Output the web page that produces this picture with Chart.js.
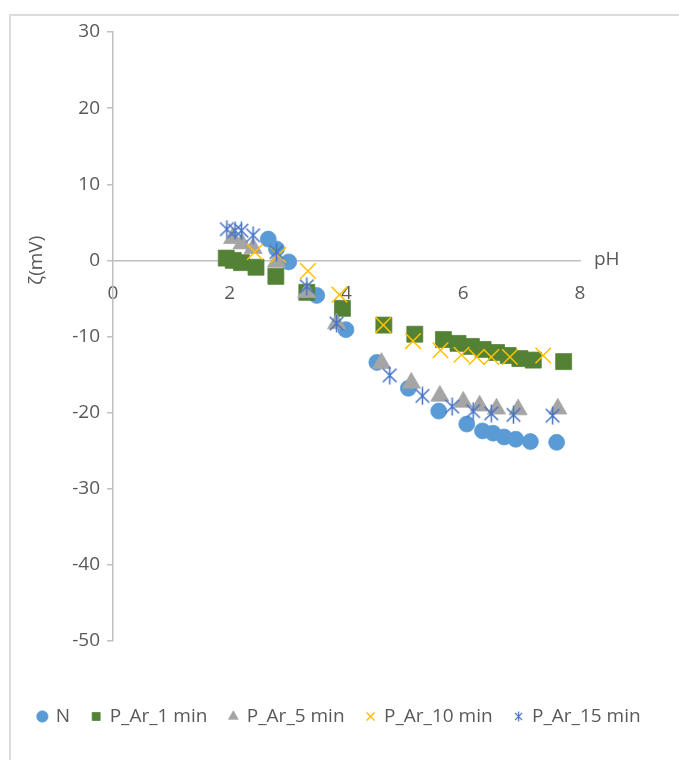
<!DOCTYPE html>
<html>
<head>
<meta charset="utf-8">
<script src="https://cdn.jsdelivr.net/npm/chart.js@4"></script>
<style>
  body { margin: 0; background: #fff; }
  #wrap { position: relative; width: 679px; height: 760px; }
  #frame { position: absolute; left: 9px; top: 14px; right: 0; bottom: 0;
           border-top: 2px solid #dcdcdc; border-left: 2px solid #dcdcdc; }
  canvas { position: absolute; left: 0; top: 0; }
</style>
</head>
<body>
<div id="wrap">
  <div id="frame"></div>
  <canvas id="zeta" width="679" height="760"></canvas>
</div>
<script>
// pH / zeta potential readings per sample
const seriesNames = ["N", "P_Ar_1 min", "P_Ar_5 min", "P_Ar_10 min", "P_Ar_15 min"];

const phN = [2.66, 2.80, 3.01, 3.49, 3.99, 4.52, 5.06, 5.58, 6.06, 6.33, 6.51, 6.70, 6.90, 7.15, 7.60];
const zetaN = [2.8, 1.5, -0.2, -4.6, -9.1, -13.4, -16.8, -19.8, -21.5, -22.4, -22.7, -23.2, -23.5, -23.8, -23.9];

const phAr1 = [1.94, 2.06, 2.20, 2.45, 2.79, 3.32, 3.93, 4.64, 5.17, 5.66, 5.91, 6.14, 6.34, 6.57, 6.77, 6.97, 7.20, 7.72];
const zetaAr1 = [0.3, 0.0, -0.3, -0.9, -2.1, -4.2, -6.3, -8.5, -9.7, -10.4, -10.9, -11.3, -11.7, -12.1, -12.5, -12.9, -13.1, -13.3];

const phAr5 = [2.05, 2.21, 2.40, 2.80, 3.32, 3.83, 4.60, 5.11, 5.60, 6.00, 6.28, 6.57, 6.94, 7.62];
const zetaAr5 = [2.9, 2.2, 1.6, -0.2, -4.2, -8.3, -13.5, -16.1, -17.8, -18.6, -19.1, -19.5, -19.6, -19.5];

const phAr10 = [2.43, 2.83, 3.34, 3.88, 4.63, 5.14, 5.61, 5.97, 6.23, 6.48, 6.80, 7.37];
const zetaAr10 = [1.1, 0.7, -1.4, -4.5, -8.5, -10.6, -11.8, -12.4, -12.7, -12.7, -12.7, -12.5];

const phAr15 = [1.95, 2.09, 2.20, 2.40, 2.80, 3.32, 3.83, 4.74, 5.30, 5.81, 6.17, 6.48, 6.86, 7.53];
const zetaAr15 = [4.1, 3.9, 3.9, 3.3, 1.1, -3.4, -8.3, -15.1, -17.8, -19.2, -19.8, -20.1, -20.3, -20.4];

const xTicks = [0, 2, 4, 6, 8];
const yTicks = [30, 20, 10, 0, -10, -20, -30, -40, -50];

const colors = ["#5b9bd5", "#548235", "#a5a5a5", "#ffc000", "#4472c4"];

// Excel style asterisk marker (x with a vertical bar)
function asterisk(size, color, lw) {
    const c = document.createElement("canvas");
    c.width = size; c.height = size;
    const g = c.getContext("2d");
    const m = size / 2, r = size / 2 - 1;
    g.strokeStyle = color;
    g.lineWidth = lw;
    g.beginPath();
    g.moveTo(m - r * 0.8, m - r * 0.8); g.lineTo(m + r * 0.8, m + r * 0.8);
    g.moveTo(m + r * 0.8, m - r * 0.8); g.lineTo(m - r * 0.8, m + r * 0.8);
    g.moveTo(m, 0.5); g.lineTo(m, size - 0.5);
    g.stroke();
    return c;
}
const starBig = asterisk(19, colors[4], 1.5);
const starSmall = asterisk(11, colors[4], 1.2);

const toPoints = (xs, ys) => xs.map((x, i) => ({ x: x, y: ys[i] }));
const allX = [phN, phAr1, phAr5, phAr10, phAr15];
const allY = [zetaN, zetaAr1, zetaAr5, zetaAr10, zetaAr15];
const styles = ["circle", "rect", "triangle", "crossRot", starBig];
const radii = [8, 11.3, 10.5, 11, 9];

const datasets = seriesNames.map((name, i) => ({
    label: name,
    data: toPoints(allX[i], allY[i]),
    pointStyle: styles[i],
    pointRadius: radii[i],
    pointHoverRadius: radii[i],
    backgroundColor: colors[i],
    borderColor: colors[i],
    pointBorderWidth: i === 3 ? 1.5 : 0.75,
    showLine: false,
    order: 5 - i
}));

const font = "'Open Sans', 'Noto Sans', sans-serif";

// axis titles drawn like the Excel ones (pH at the end of the axis)
const axisTitles = {
    id: "axisTitles",
    afterDraw(chart) {
        const ctx = chart.ctx;
        const y0 = chart.scales.y.getPixelForValue(0);
        ctx.save();
        ctx.fillStyle = "#595959";
        ctx.font = "19px " + font;
        ctx.textBaseline = "middle";
        ctx.textAlign = "left";
        ctx.fillText("pH", chart.chartArea.right + 14, y0 - 1);
        ctx.translate(37, y0);
        ctx.rotate(-Math.PI / 2);
        ctx.textAlign = "center";
        ctx.fillText("ζ(mV)", 0, 0);
        ctx.restore();
    }
};

new Chart(document.getElementById("zeta"), {
    type: "scatter",
    data: { datasets: datasets },
    options: {
        responsive: false,
        animation: false,
        layout: { padding: { top: 32, left: 0, right: 0, bottom: 24 } },
        scales: {
            x: {
                type: "linear",
                min: 0, max: 8,
                position: { y: 0 },
                afterBuildTicks: s => { s.ticks = xTicks.map(v => ({ value: v })); },
                grid: { display: true, drawOnChartArea: false, drawTicks: false },
                border: { color: "#bfbfbf", width: 1.5 },
                ticks: { color: "#595959", font: { family: font, size: 19 }, padding: 22 }
            },
            // empty spacer under the plot, keeps the legend low
            x2: {
                type: "linear",
                position: "bottom",
                afterFit: s => { s.height = 44; },
                grid: { display: false },
                border: { display: false },
                ticks: { display: false }
            },
            y: {
                type: "linear",
                min: -50, max: 30,
                position: "left",
                afterFit: s => { s.width = 113; },
                afterBuildTicks: s => { s.ticks = yTicks.map(v => ({ value: v })); },
                grid: { drawOnChartArea: false, drawTicks: true, tickLength: 6, color: "#bfbfbf", lineWidth: 1.5 },
                border: { color: "#bfbfbf", width: 1.5 },
                ticks: { color: "#595959", font: { family: font, size: 19 }, padding: 7 }
            },
            y2: {
                type: "linear",
                position: "right",
                afterFit: s => { s.width = 99; },
                grid: { display: false },
                border: { display: false },
                ticks: { display: false }
            }
        },
        plugins: {
            legend: {
                position: "bottom",
                labels: {
                    usePointStyle: true,
                    boxWidth: 8,
                    boxHeight: 8,
                    padding: 22,
                    color: "#595959",
                    font: { family: font, size: 19 },
                    sort: (a, b) => a.datasetIndex - b.datasetIndex,
                    generateLabels: chart => {
                        const items = Chart.defaults.plugins.legend.labels.generateLabels(chart);
                        items.forEach(it => { if (it.datasetIndex === 4) it.pointStyle = starSmall; });
                        return items;
                    }
                }
            },
            tooltip: { enabled: false }
        }
    },
    plugins: [axisTitles]
});
</script>
</body>
</html>
